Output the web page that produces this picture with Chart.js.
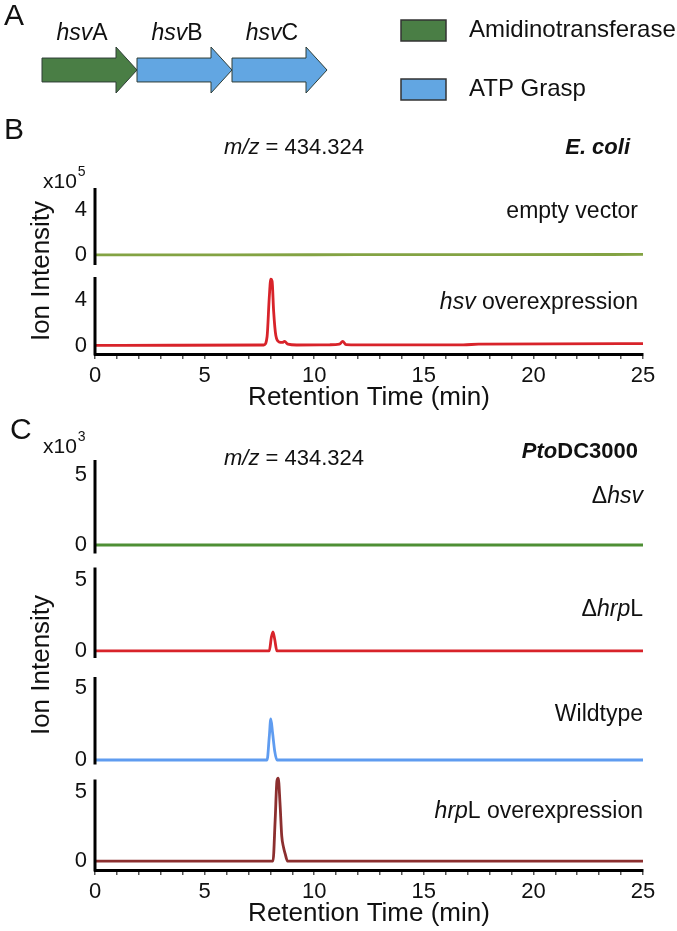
<!DOCTYPE html>
<html>
<head>
<meta charset="utf-8">
<script src="https://cdn.jsdelivr.net/npm/chart.js@4.4.0/dist/chart.umd.min.js"></script>
<style>
  body { margin: 0; background: #fff; }
  #wrap { position: relative; width: 677px; height: 931px; }
  canvas { position: absolute; left: 0; }
</style>
</head>
<body>
<div id="wrap">
  <canvas id="geneChart" width="677" height="110" style="top:0px"></canvas>
  <canvas id="ecoliChart" width="677" height="300" style="top:110px"></canvas>
  <canvas id="ptoChart" width="677" height="521" style="top:410px"></canvas>
</div>
<script>
// ---- data ----
const genes = ["hsvA", "hsvB", "hsvC"];
const geneStart = [0, 1, 2];
const geneEnd = [1, 2, 3];
const geneFamily = ["Amidinotransferase", "ATP Grasp", "ATP Grasp"];
const families = ["Amidinotransferase", "ATP Grasp"];
const familyColors = ["#4a7e45", "#62a6e2"];

const timeTicks = [0, 5, 10, 15, 20, 25];

// panel B, ion intensity x10^5
const ecoliTicks = [0, 4];
const emptyTime = [0, 6, 12, 18, 25];
const emptyVals = [0.02, 0.02, 0.03, 0.04, 0.05];
const hsvTime = [0, 3.6, 7.7, 7.85, 7.95, 8.02, 8.08, 8.15, 8.25, 8.4, 8.55, 8.65, 8.8, 9.2, 10.7, 11.15, 11.3, 11.45, 12.0, 16.8, 17.5, 24.5, 25];
const hsvVals = [0.05, 0.06, 0.08, 0.8, 4.2, 5.8, 5.6, 3.0, 0.9, 0.35, 0.3, 0.4, 0.15, 0.08, 0.1, 0.15, 0.4, 0.12, 0.1, 0.1, 0.15, 0.2, 0.2];

// panel C, ion intensity x10^3
const ptoTicks = [0, 5];
const dhsvTime = [0, 8, 16, 25];
const dhsvVals = [0, 0, 0, 0];
const dhrplTime = [0, 7.95, 8.05, 8.12, 8.2, 8.3, 25];
const dhrplVals = [0, 0, 1.0, 1.35, 0.8, 0, 0];
const wtTime = [0, 7.85, 7.95, 8.02, 8.1, 8.2, 8.3, 25];
const wtVals = [0, 0, 1.6, 2.85, 1.9, 0.6, 0, 0];
const hrplOeTime = [0, 8.12, 8.22, 8.3, 8.36, 8.44, 8.52, 8.6, 8.68, 8.78, 25];
const hrplOeVals = [0, 0, 3.0, 5.8, 6.0, 4.2, 1.8, 1.0, 0.5, 0, 0];

const FONT = '"Liberation Sans", Arial, sans-serif';
const INK = "#111";

function pts(t, v) { return t.map((x, i) => ({ x, y: v[i] })); }

function drawRuns(ctx, runs, x, y, align, size) {
  ctx.save();
  ctx.textBaseline = "middle";
  ctx.textAlign = "left";
  ctx.fillStyle = INK;
  const fonts = runs.map(r => `${r.i ? "italic " : ""}${r.b ? "bold " : ""}${size}px ${FONT}`);
  const widths = runs.map((r, k) => { ctx.font = fonts[k]; return ctx.measureText(r.t).width; });
  const total = widths.reduce((a, b) => a + b, 0);
  let cx = align === "center" ? x - total / 2 : align === "right" ? x - total : x;
  runs.forEach((r, k) => { ctx.font = fonts[k]; ctx.fillText(r.t, cx, y); cx += widths[k]; });
  ctx.restore();
  return cx;
}

// free text placed on a chart canvas
const textPlugin = {
  id: "texts",
  afterDraw(chart, args, opts) {
    const ctx = chart.ctx;
    (opts.items || []).forEach(it => {
      if (it.rot) {
        ctx.save();
        ctx.translate(it.x, it.y);
        ctx.rotate(it.rot);
        drawRuns(ctx, it.runs, 0, 0, it.align, it.size);
        ctx.restore();
        return;
      }
      const end = drawRuns(ctx, it.runs, it.x, it.y, it.align, it.size);
      if (it.sup) drawRuns(ctx, [{ t: it.sup }], end + 1, it.y - 10, "left", Math.round(it.size * 0.68));
    });
  }
};

// separate y axis segments for each stacked trace
const axisLines = {
  id: "axisLines",
  afterDraw(chart, args, opts) {
    const ctx = chart.ctx;
    const left = chart.chartArea.left;
    ctx.save();
    ctx.strokeStyle = "#000";
    ctx.lineWidth = 3;
    (opts.rows || []).forEach(([id, gapTop, gapBottom]) => {
      const s = chart.scales[id];
      ctx.beginPath();
      ctx.moveTo(left, s.top + gapTop);
      ctx.lineTo(left, s.bottom - gapBottom);
      ctx.stroke();
    });
    ctx.restore();
  }
};

// gene arrows drawn on the floating bar geometry
const geneArrows = {
  id: "geneArrows",
  beforeDatasetsDraw(chart) {
    const ctx = chart.ctx;
    chart.data.datasets.forEach((ds, i) => {
      const bar = chart.getDatasetMeta(i).data[0];
      const x0 = bar.base, x1 = bar.x, yc = bar.y, h = bar.height;
      const head = 21, body = h * 0.26, neck = x1 - head;
      ctx.save();
      ctx.beginPath();
      ctx.moveTo(x0, yc - body);
      ctx.lineTo(neck, yc - body);
      ctx.lineTo(neck, yc - h / 2);
      ctx.lineTo(x1, yc);
      ctx.lineTo(neck, yc + h / 2);
      ctx.lineTo(neck, yc + body);
      ctx.lineTo(x0, yc + body);
      ctx.closePath();
      ctx.fillStyle = ds.backgroundColor;
      ctx.fill();
      ctx.strokeStyle = "#2e3d36";
      ctx.lineWidth = 1;
      ctx.stroke();
      ctx.restore();
      const name = ds.label;
      drawRuns(ctx, [{ t: name.slice(0, 3), i: true }, { t: name.slice(3) }], (x0 + neck) / 2 + 3, 34, "center", 23);
    });
    return false;
  },
  afterDraw(chart) {
    const ctx = chart.ctx;
    families.forEach((f, k) => {
      const y = 20 + k * 59;
      ctx.save();
      ctx.fillStyle = familyColors[k];
      ctx.fillRect(401, y, 45, 21);
      ctx.strokeStyle = "#333";
      ctx.lineWidth = 1.5;
      ctx.strokeRect(401, y, 45, 21);
      ctx.restore();
      drawRuns(ctx, [{ t: f }], 469, y + 10, "left", 24);
    });
  }
};

new Chart(document.getElementById("geneChart"), {
  type: "bar",
  data: {
    labels: ["cluster"],
    datasets: genes.map((g, i) => ({
      label: g,
      data: [[geneStart[i], geneEnd[i]]],
      backgroundColor: familyColors[families.indexOf(geneFamily[i])],
      grouped: false,
      barPercentage: 1,
      categoryPercentage: 1
    }))
  },
  options: {
    indexAxis: "y",
    responsive: false,
    animation: false,
    layout: { padding: { left: 42, right: 350, top: 47, bottom: 17 } },
    scales: {
      x: { type: "linear", min: 0, max: 3, display: false },
      y: { display: false }
    },
    plugins: {
      legend: { display: false },
      tooltip: { enabled: false },
      texts: { items: [{ runs: [{ t: "A" }], x: 4, y: 17, align: "left", size: 30 }] }
    }
  },
  plugins: [geneArrows, textPlugin]
});

function yRow(weight, min, max, tickVals) {
  return {
    type: "linear",
    position: "left",
    stack: "rows",
    stackWeight: 1,
    weight,
    min,
    max,
    grid: { display: false, drawTicks: false },
    border: { display: false },
    afterBuildTicks: s => { s.ticks = tickVals.map(v => ({ value: v })); },
    afterFit: s => { s.width = 95; },
    ticks: { color: INK, font: { size: 22, family: FONT }, padding: 8 }
  };
}

function xTime(height) {
  return {
    type: "linear",
    min: 0,
    max: 25,
    border: { display: true, color: "#000", width: 3 },
    grid: { drawOnChartArea: false, drawTicks: true, tickLength: 5, color: "#555", lineWidth: 1.5 },
    ticks: {
      stepSize: 1,
      autoSkip: false,
      maxRotation: 0,
      color: INK,
      font: { size: 22, family: FONT },
      padding: 4,
      callback: v => (timeTicks.includes(v) ? String(v) : "")
    },
    afterFit: s => { s.height = height; }
  };
}

function trace(t, v, axis, color) {
  return {
    data: pts(t, v),
    yAxisID: axis,
    borderColor: color,
    borderWidth: 2.8,
    pointRadius: 0,
    fill: false,
    cubicInterpolationMode: "monotone"
  };
}

const ion = [{ t: "Ion Intensity" }];
const retention = [{ t: "Retention Time (min)" }];
const mz = [{ t: "m/z", i: true }, { t: " = 434.324" }];

new Chart(document.getElementById("ecoliChart"), {
  type: "line",
  data: {
    datasets: [
      trace(emptyTime, emptyVals, "yEmpty", "#83a343"),
      trace(hsvTime, hsvVals, "yHsv", "#d8232a")
    ]
  },
  options: {
    responsive: false,
    animation: false,
    layout: { padding: { left: 0, right: 34, top: 78, bottom: 0 } },
    scales: {
      x: xTime(56),
      yEmpty: yRow(2, -1.42, 5.96, ecoliTicks),
      yHsv: yRow(1, -0.7, 6.5, ecoliTicks)
    },
    plugins: {
      legend: { display: false },
      tooltip: { enabled: false },
      axisLines: { rows: [["yEmpty", 0, 6], ["yHsv", 6, -1.5]] },
      texts: {
        items: [
          { runs: [{ t: "B" }], x: 4, y: 21, align: "left", size: 30 },
          { runs: mz, x: 294, y: 38, align: "center", size: 22 },
          { runs: [{ t: "E. coli", i: true, b: true }], x: 630, y: 38, align: "right", size: 22 },
          { runs: [{ t: "x10" }], sup: "5", x: 43, y: 72, align: "left", size: 21 },
          { runs: ion, x: 42, y: 161, align: "center", size: 26, rot: -Math.PI / 2 },
          { runs: [{ t: "empty vector" }], x: 638, y: 102, align: "right", size: 23 },
          { runs: [{ t: "hsv", i: true }, { t: " overexpression" }], x: 638, y: 193, align: "right", size: 23 },
          { runs: retention, x: 369, y: 288, align: "center", size: 26 }
        ]
      }
    }
  },
  plugins: [axisLines, textPlugin]
});

new Chart(document.getElementById("ptoChart"), {
  type: "line",
  data: {
    datasets: [
      trace(dhsvTime, dhsvVals, "yDhsv", "#4e8f35"),
      trace(dhrplTime, dhrplVals, "yDhrpl", "#d8232a"),
      trace(wtTime, wtVals, "yWt", "#5f9cf0"),
      trace(hrplOeTime, hrplOeVals, "yOe", "#8c2f2f")
    ]
  },
  options: {
    responsive: false,
    animation: false,
    layout: { padding: { left: 0, right: 34, top: 50, bottom: 0 } },
    scales: {
      x: xTime(61),
      yDhsv: yRow(4, -1.25, 6.07, ptoTicks),
      yDhrpl: yRow(3, -0.99, 6.23, ptoTicks),
      yWt: yRow(2, -0.52, 6.6, ptoTicks),
      yOe: yRow(1, -0.65, 6.78, ptoTicks)
    },
    plugins: {
      legend: { display: false },
      tooltip: { enabled: false },
      axisLines: { rows: [["yDhsv", 0, 9], ["yDhrpl", 5, 7], ["yWt", 12, 3], ["yOe", 12, -1.5]] },
      texts: {
        items: [
          { runs: [{ t: "C" }], x: 10, y: 21, align: "left", size: 30 },
          { runs: [{ t: "x10" }], sup: "3", x: 43, y: 37, align: "left", size: 21 },
          { runs: mz, x: 294, y: 49, align: "center", size: 22 },
          { runs: [{ t: "Pto", i: true, b: true }, { t: "DC3000", b: true }], x: 638, y: 42, align: "right", size: 22 },
          { runs: [{ t: "\u0394" }, { t: "hsv", i: true }], x: 643, y: 87, align: "right", size: 23 },
          { runs: [{ t: "\u0394" }, { t: "hrp", i: true }, { t: "L" }], x: 643, y: 200, align: "right", size: 23 },
          { runs: [{ t: "Wildtype" }], x: 643, y: 305, align: "right", size: 23 },
          { runs: [{ t: "hrp", i: true }, { t: "L overexpression" }], x: 643, y: 402, align: "right", size: 23 },
          { runs: ion, x: 42, y: 255, align: "center", size: 26, rot: -Math.PI / 2 },
          { runs: retention, x: 369, y: 504, align: "center", size: 26 }
        ]
      }
    }
  },
  plugins: [axisLines, textPlugin]
});
</script>
</body>
</html>
